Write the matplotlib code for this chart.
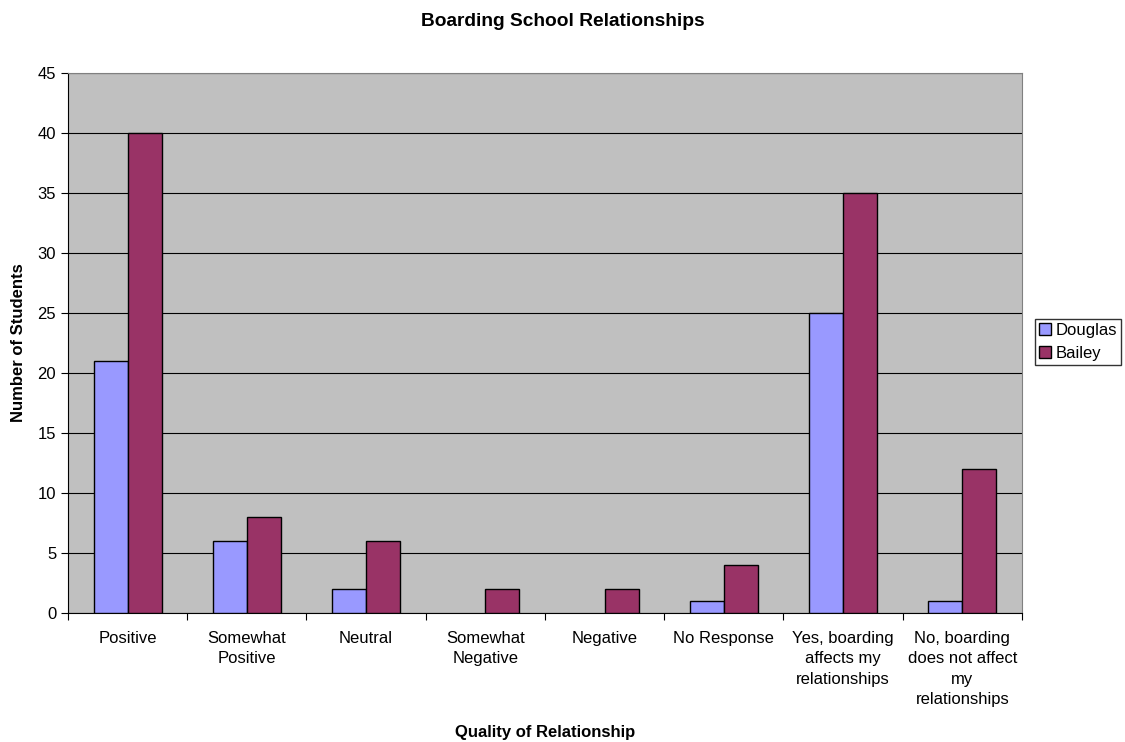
import numpy as np
import matplotlib
matplotlib.use("Agg")
import matplotlib.pyplot as plt

plt.rcParams['font.family'] = ['Liberation Sans', 'DejaVu Sans']

categories = ["Positive", "Somewhat\nPositive", "Neutral", "Somewhat\nNegative",
              "Negative", "No Response", "Yes, boarding\naffects my\nrelationships",
              "No, boarding\ndoes not affect\nmy\nrelationships"]
douglas = [21, 6, 2, 0, 0, 1, 25, 1]
bailey = [40, 8, 6, 2, 2, 4, 35, 12]
yticks = list(range(0, 50, 5))

fig = plt.figure(figsize=(11.25, 7.42), dpi=100)
ax = fig.add_axes([0.0604, 0.1739, 0.848, 0.7277])
ax.set_facecolor("#C0C0C0")

x = np.arange(len(categories))
w = 0.285
# zero-height bars are not drawn with an outline in the original
lw_d = [1 if v > 0 else 0 for v in douglas]
lw_b = [1 if v > 0 else 0 for v in bailey]
ax.bar(x - w/2, douglas, w, color="#9999FF", edgecolor="black", linewidth=lw_d, label="Douglas", zorder=3)
ax.bar(x + w/2, bailey, w, color="#993366", edgecolor="black", linewidth=lw_b, label="Bailey", zorder=3)

ax.set_xlim(-0.5, len(categories) - 0.5)
ax.set_ylim(0, 45)
ax.set_yticks(yticks)
ax.yaxis.grid(True, color="black", linewidth=0.8, zorder=1)
ax.set_axisbelow(True)

ax.set_xticks(np.arange(-0.5, len(categories), 1))
ax.set_xticklabels([])
ax.set_xticks(x, minor=True)
ax.set_xticklabels(categories, minor=True, fontsize=12, linespacing=1.45)
ax.tick_params(axis="x", which="minor", length=0, pad=13)
ax.tick_params(axis="x", which="major", length=5, direction="out")
ax.tick_params(axis="y", length=5, direction="out", labelsize=12)

for s in ["top", "right"]:
    ax.spines[s].set_color("#808080")
for s in ["left", "bottom"]:
    ax.spines[s].set_color("black")

ax.set_xlabel("Quality of Relationship", fontsize=12, fontweight="bold", labelpad=13)
ax.set_ylabel("Number of Students", fontsize=12, fontweight="bold", labelpad=8)
fig.suptitle("Boarding School Relationships", fontsize=13.8, fontweight="bold", y=0.983)

leg = ax.legend(loc="center left", bbox_to_anchor=(1.0136, 0.502), fontsize=12,
                frameon=True, fancybox=False, edgecolor="black", handlelength=0.7,
                handleheight=0.7, handletextpad=0.3, borderpad=0.25, labelspacing=0.5,
                borderaxespad=0)
leg.get_frame().set_linewidth(1)

fig.savefig("out.png", dpi=100)
